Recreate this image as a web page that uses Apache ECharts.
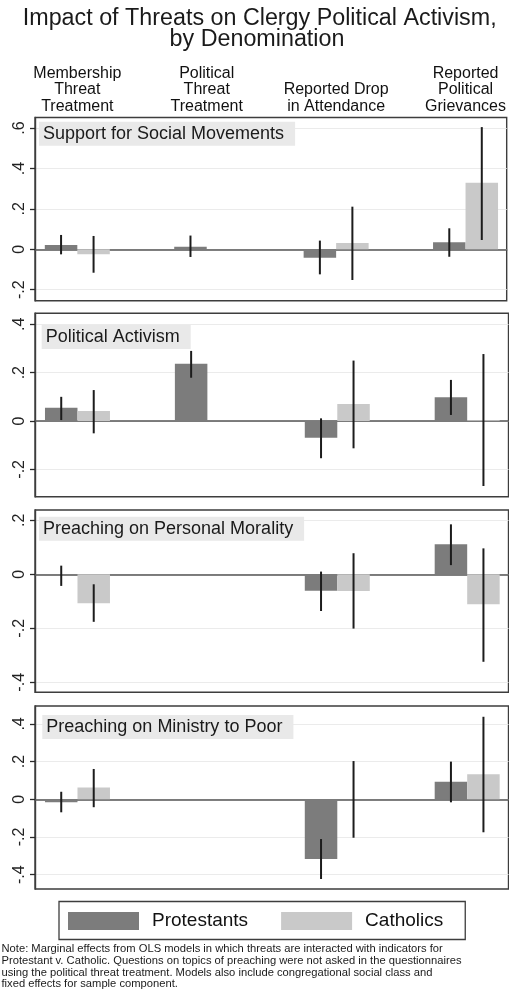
<!DOCTYPE html>
<html>
<head>
<meta charset="utf-8">
<script src="https://cdn.jsdelivr.net/npm/echarts@6/dist/echarts.min.js"></script>
<style>
  html, body { margin: 0; padding: 0; background: #fff; }
  #chart { width: 509px; height: 996px; }
</style>
</head>
<body>
<div id="chart"></div>
<script>
// Treatments along the horizontal axis
const groups = [
  'Membership\nThreat\nTreatment',
  'Political\nThreat\nTreatment',
  'Reported Drop\nin Attendance',
  'Reported\nPolitical\nGrievances'
];
const panelTitles = [
  'Support for Social Movements',
  'Political Activism',
  'Preaching on Personal Morality',
  'Preaching on Ministry to Poor'
];
const legendNames = ['Protestants', 'Catholics'];
const yTickValues = [
  [-0.2, 0, 0.2, 0.4, 0.6],
  [-0.2, 0, 0.2, 0.4],
  [-0.4, -0.2, 0, 0.2],
  [-0.4, -0.2, 0, 0.2, 0.4]
];

// Marginal effects per treatment: [estimate, lower bound, upper bound]; null = not estimated
const socialProtestants   = [[0.021, -0.025, 0.071], [0.013, -0.038, 0.068], [-0.042, -0.124, 0.043], [0.035, -0.037, 0.104]];
const socialCatholics     = [[-0.025, -0.116, 0.066], null, [0.031, -0.152, 0.211], [0.329, 0.046, 0.605]];
const activismProtestants = [[0.055, 0.004, 0.100], [0.237, 0.179, 0.290], [-0.069, -0.154, 0.011], [0.098, 0.025, 0.170]];
const activismCatholics   = [[0.041, -0.051, 0.128], null, [0.070, -0.113, 0.250], [0.003, -0.269, 0.277]];
const moralityProtestants = [[-0.005, -0.043, 0.032], null, [-0.061, -0.136, 0.010], [0.111, 0.034, 0.185]];
const moralityCatholics   = [[-0.107, -0.176, -0.037], null, [-0.062, -0.201, 0.078], [-0.111, -0.324, 0.096]];
const povertyProtestants  = [[-0.016, -0.069, 0.040], null, [-0.317, -0.423, -0.211], [0.093, -0.016, 0.200]];
const povertyCatholics    = [[0.062, -0.042, 0.161], null, [0.000, -0.204, 0.203], [0.133, -0.175, 0.438]];

const protestantPanels = [socialProtestants, activismProtestants, moralityProtestants, povertyProtestants];
const catholicPanels = [socialCatholics, activismCatholics, moralityCatholics, povertyCatholics];

// ---- layout ----
const FONT = '"Liberation Sans", Arial, Helvetica, sans-serif';
const PLOT_LEFT = 35;
const PLOT_WIDTH = 473.5;
const X_RANGE = [-0.327, 3.318];
const BAR_WIDTH = 32.5;
const panelLayout = [
  { top: 117.5, height: 183.2, yMin: -0.2545, yMax: 0.6525, label: [39, 121.7] },
  { top: 313.3, height: 183.4, yMin: -0.3132, yMax: 0.4456, label: [41.7, 325] },
  { top: 510.0, height: 182.3, yMin: -0.4370, yMax: 0.2381, label: [39, 516.7] },
  { top: 706.0, height: 183.0, yMin: -0.4761, yMax: 0.4952, label: [42.3, 715] }
];
const COLORS = { protestant: '#7c7c7c', catholic: '#c9c9c9', ci: '#1c1c1c', frame: '#3d3d3d', tick: '#2a2a2a' };

// Stata-style tick labels: ".2", "-.4", "0"
function tickLabel(v) {
  if (Math.abs(v) < 1e-9) return '0';
  const s = Math.abs(v).toFixed(1).replace(/^0/, '');
  return (v < 0 ? '-' : '') + s;
}

function errorBarRenderer(shift) {
  return function (params, api) {
    const lo = api.coord([api.value(0), api.value(1)]);
    const hi = api.coord([api.value(0), api.value(2)]);
    const dx = shift * BAR_WIDTH / 2;
    return {
      type: 'line',
      shape: { x1: lo[0] + dx, y1: lo[1], x2: hi[0] + dx, y2: hi[1] },
      style: { stroke: COLORS.ci, lineWidth: 2 }
    };
  };
}

const grid = [], xAxis = [], yAxis = [], series = [], graphic = [];

panelLayout.forEach((p, i) => {
  grid.push({
    left: PLOT_LEFT, top: p.top, width: PLOT_WIDTH, height: p.height,
    show: true, borderColor: COLORS.frame, borderWidth: 1.4, backgroundColor: '#fff'
  });
  xAxis.push({
    type: 'value', gridIndex: i, min: X_RANGE[0], max: X_RANGE[1],
    axisLine: { show: true, onZero: true, lineStyle: { color: '#555', width: 1.5 } },
    axisTick: { show: false }, axisLabel: { show: false }, splitLine: { show: false }
  });
  yAxis.push({
    type: 'value', gridIndex: i, min: p.yMin, max: p.yMax,
    minInterval: 0.2, maxInterval: 0.2,
    axisLine: { show: true, onZero: false, lineStyle: { color: COLORS.frame, width: 1.4 } },
    axisTick: { show: true, inside: false, length: 5, customValues: yTickValues[i],
                lineStyle: { color: COLORS.tick, width: 1.3 } },
    axisLabel: {
      customValues: yTickValues[i], rotate: 90, margin: 7.5,
      fontFamily: FONT, fontSize: 16, color: '#222', formatter: tickLabel
    },
    splitLine: { show: true, lineStyle: { color: '#ebebeb', width: 1 } }
  });

  const prot = protestantPanels[i], cath = catholicPanels[i];
  const barData = rows => rows.map((d, k) => d ? [k, d[0]] : null).filter(Boolean);
  const ciData = rows => rows.map((d, k) => d ? [k, d[1], d[2]] : null).filter(Boolean);

  series.push({
    name: legendNames[0], type: 'bar', xAxisIndex: i, yAxisIndex: i,
    barWidth: BAR_WIDTH, barGap: '0%', itemStyle: { color: COLORS.protestant },
    data: barData(prot), silent: true
  });
  series.push({
    name: legendNames[1], type: 'bar', xAxisIndex: i, yAxisIndex: i,
    barWidth: BAR_WIDTH, barGap: '0%', itemStyle: { color: COLORS.catholic },
    data: barData(cath), silent: true
  });
  series.push({
    name: 'ci-p' + i, type: 'custom', xAxisIndex: i, yAxisIndex: i, z: 5,
    renderItem: errorBarRenderer(-1), encode: { x: 0, y: [1, 2] }, data: ciData(prot), silent: true
  });
  series.push({
    name: 'ci-c' + i, type: 'custom', xAxisIndex: i, yAxisIndex: i, z: 5,
    renderItem: errorBarRenderer(1), encode: { x: 0, y: [1, 2] }, data: ciData(cath), silent: true
  });

  graphic.push({
    type: 'text', left: p.label[0], top: p.label[1], z: 10,
    style: {
      text: panelTitles[i], fontFamily: FONT, fontSize: 18, lineHeight: 18,
      fill: '#1a1a1a', backgroundColor: '#e9e9e9', padding: [3, 11, 3, 4]
    }
  });
});

// treatment headings above the first panel
xAxis.push({
  type: 'value', gridIndex: 0, position: 'top', min: X_RANGE[0], max: X_RANGE[1],
  axisLine: { show: false, onZero: false }, axisTick: { show: false }, splitLine: { show: false },
  axisLabel: {
    customValues: [0, 1, 2, 3], margin: 3,
    fontFamily: FONT, fontSize: 16, lineHeight: 16.5, color: '#111',
    formatter: v => groups[Math.round(v)]
  }
});

// title
graphic.push({
  type: 'text', x: 259.7, y: 18.7,
  style: { text: 'Impact of Threats on Clergy Political Activism,', fontFamily: FONT, fontSize: 23.3,
           fill: '#1a1a1a', align: 'center', verticalAlign: 'middle' }
});
graphic.push({
  type: 'text', x: 257, y: 39.5,
  style: { text: 'by Denomination', fontFamily: FONT, fontSize: 23.3,
           fill: '#1a1a1a', align: 'center', verticalAlign: 'middle' }
});

// footnote
graphic.push({
  type: 'text', left: 1.5, top: 943.5,
  style: {
    text: 'Note: Marginal effects from OLS models in which threats are interacted with indicators for\n' +
          'Protestant v. Catholic. Questions on topics of preaching were not asked in the questionnaires\n' +
          'using the political threat treatment. Models also include congregational social class and\n' +
          'fixed effects for sample component.',
    fontFamily: FONT, fontSize: 11.2, lineHeight: 11.6, fill: '#1a1a1a'
  }
});

const chart = echarts.init(document.getElementById('chart'), null, { renderer: 'canvas' });
chart.setOption({
  animation: false,
  backgroundColor: '#fff',
  grid, xAxis, yAxis, series, graphic,
  legend: {
    data: legendNames.map(n => ({ name: n, icon: 'rect' })),
    left: 59, top: 901.5,
    padding: [10, 22, 9, 9],
    itemWidth: 71, itemHeight: 18, itemGap: 33,
    borderColor: '#3d3d3d', borderWidth: 1.3,
    selectedMode: false,
    textStyle: { fontFamily: FONT, fontSize: 19, color: '#111', padding: [0, 0, 0, 8] }
  }
});
</script>
</body>
</html>
